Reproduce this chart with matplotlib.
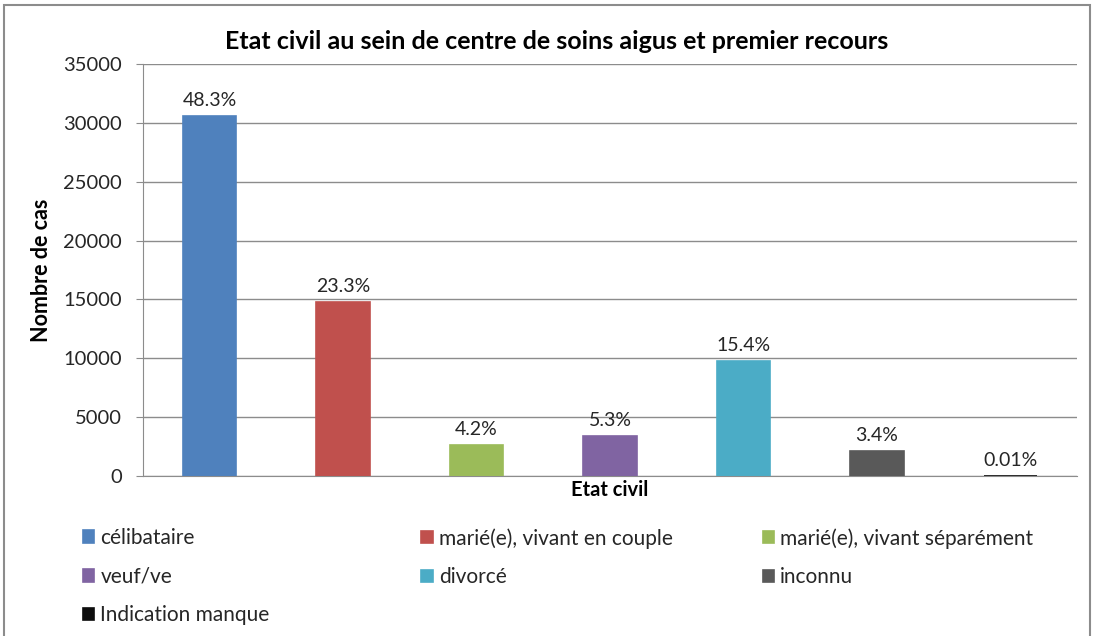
import matplotlib
matplotlib.use("Agg")
from matplotlib import pyplot as plt
from matplotlib.patches import Rectangle

plt.rcParams['font.family'] = ['Lato', 'DejaVu Sans']

categories = ["célibataire", "marié(e), vivant en couple", "marié(e), vivant séparément",
              "veuf/ve", "divorcé", "inconnu", "Indication manque"]
cases = [30600, 14750, 2660, 3360, 9760, 2160, 6]
pct_labels = ["48.3%", "23.3%", "4.2%", "5.3%", "15.4%", "3.4%", "0.01%"]
colors = ["#4F81BD", "#C0504D", "#9BBB59", "#8064A2", "#4BACC6", "#595959", "#0D0D0D"]

fig = plt.figure(figsize=(10.93, 6.36), dpi=100)
ax = fig.add_axes([0.1308, 0.2516, 0.8546, 0.6478])

bars = []
for i, (cat, val, col) in enumerate(zip(categories, cases, colors)):
    b = ax.bar(i, val, width=0.4, color=col, edgecolor=col, linewidth=1.2,
               label=cat, zorder=3)
    bars.append(b)
    ax.annotate(pct_labels[i], (i, val), xytext=(0, 5), textcoords="offset points",
                ha="center", va="bottom", fontsize=14, color="#262626")

ax.set_xlim(-0.5, len(categories) - 0.5)
ax.set_ylim(0, 35000)
ax.set_yticks(range(0, 35001, 5000))
ax.set_xticks([])
ax.grid(axis="y", color="#8c8c8c", linewidth=1, zorder=0)
ax.tick_params(axis="y", length=5, color="#8c8c8c", pad=10, labelsize=14.5, labelcolor="#262626")
for s in ["top", "right"]:
    ax.spines[s].set_visible(False)
for s in ["left", "bottom"]:
    ax.spines[s].set_color("#8c8c8c")
    ax.spines[s].set_zorder(2)

fig.text(0.509, 0.934, "Etat civil au sein de centre de soins aigus et premier recours",
         ha="center", va="center", fontsize=18, fontweight="bold")
ax.set_ylabel("Nombre de cas", fontsize=15.5, fontweight="bold", labelpad=8)
ax.set_xlabel("Etat civil", fontsize=14.5, fontweight="bold", labelpad=3)

# legend: three columns placed at fixed x positions, filled row by row
col_x = [0.068, 0.378, 0.690]
for c in range(3):
    idx = list(range(c, len(categories), 3))
    leg = fig.legend([bars[j] for j in idx], [categories[j] for j in idx],
                     loc="upper left", bbox_to_anchor=(col_x[c], 0.183),
                     frameon=False, fontsize=15, handlelength=0.55, handleheight=0.55,
                     handletextpad=0.3, labelspacing=0.9, borderaxespad=0)
    for t in leg.get_texts():
        t.set_color("#262626")

fig.patches.append(Rectangle((0.004, -0.01), 0.993, 1.002, transform=fig.transFigure,
                             fill=False, edgecolor="#8c8c8c", linewidth=1.5))

fig.savefig("out.png", dpi=100)
